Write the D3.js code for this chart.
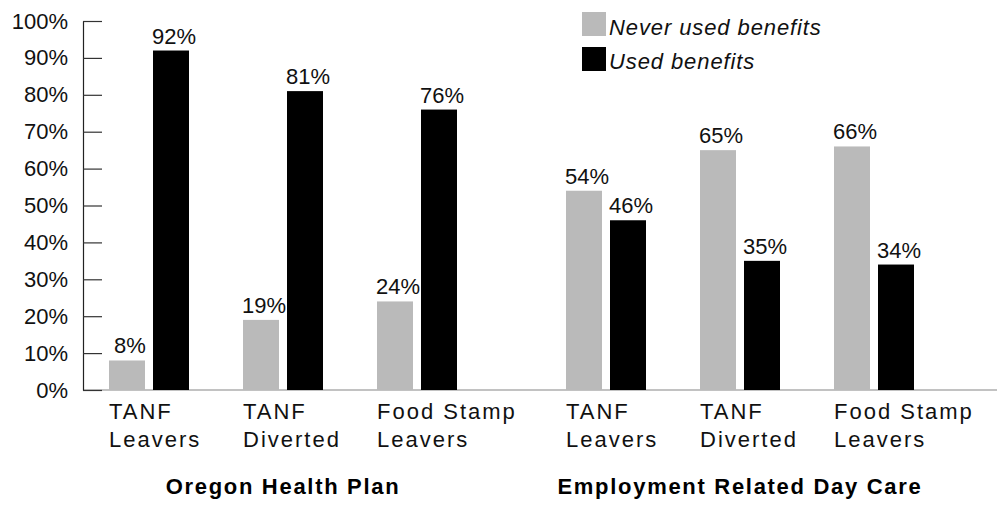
<!DOCTYPE html>
<html>
<head>
<meta charset="utf-8">
<script src="https://cdn.jsdelivr.net/npm/d3@7"></script>
<style>
  html, body { margin: 0; padding: 0; background: #fff; }
  svg { display: block; font-family: "Liberation Sans", Arial, Helvetica, sans-serif; }
</style>
</head>
<body>
<svg id="chart" width="997" height="506"></svg>
<script>
// ---- data ----
const panels = ["Oregon Health Plan", "Employment Related Day Care"];
const categories = [["TANF", "Leavers"], ["TANF", "Diverted"], ["Food Stamp", "Leavers"]];
const seriesNames = ["Never used benefits", "Used benefits"];
const neverUsed = [[8, 19, 24], [54, 65, 66]];
const used = [[92, 81, 76], [46, 35, 34]];
const yTicks = [0, 10, 20, 30, 40, 50, 60, 70, 80, 90, 100];

// ---- styles ----
const colors = ["#bababa", "#000000"];

const svg = d3.select("#chart");

const y = d3.scaleLinear().domain([0, 100]).range([390, 21]);
const xPanel = d3.scaleBand().domain(panels).range([109, 109 + 2 * 457]);
const catKeys = categories.map(c => c.join(" "));
const xCat = d3.scaleBand().domain(catKeys).range([0, 3 * 134]);
const xSeries = d3.scaleBand().domain(seriesNames).range([0, 80]).paddingInner(8 / 44);

// baseline
svg.append("line")
  .attr("x1", 83).attr("x2", 997)
  .attr("y1", y(0)).attr("y2", y(0))
  .attr("stroke", "#858585").attr("stroke-width", 1.2);

// y axis
const yAxis = d3.axisLeft(y)
  .tickValues(yTicks)
  .tickFormat(d => d + "%")
  .tickSizeInner(-19)
  .tickSizeOuter(0)
  .tickPadding(15);

const gy = svg.append("g").attr("transform", "translate(83,0)").call(yAxis);
gy.select(".domain").attr("stroke", "#222").attr("stroke-width", 1.2);
gy.selectAll(".tick line").attr("stroke", "#333").attr("stroke-width", 1.2);
gy.selectAll(".tick text")
  .attr("font-size", 22)
  .attr("fill", "#111")
  .attr("font-family", "Liberation Sans, Arial, sans-serif")
  .attr("dy", null)
  .attr("y", 7);

// bars
const rows = [];
panels.forEach((p, pi) => {
  catKeys.forEach((c, ci) => {
    rows.push({ panel: p, cat: c, catIdx: ci, series: seriesNames[0], value: neverUsed[pi][ci], si: 0 });
    rows.push({ panel: p, cat: c, catIdx: ci, series: seriesNames[1], value: used[pi][ci], si: 1 });
  });
});

const barX = d => xPanel(d.panel) + xCat(d.cat) + xSeries(d.series);

svg.append("g").selectAll("rect")
  .data(rows).join("rect")
  .attr("x", barX)
  .attr("y", d => y(d.value))
  .attr("width", xSeries.bandwidth())
  .attr("height", d => y(0) - y(d.value))
  .attr("fill", d => colors[d.si]);

// value labels
svg.append("g").selectAll("text")
  .data(rows).join("text")
  .attr("x", d => barX(d) + xSeries.bandwidth() / 2 + 3)
  .attr("y", d => y(d.value) - 7)
  .attr("text-anchor", "middle")
  .attr("font-size", 22)
  .attr("fill", "#111")
  .text(d => d.value + "%");

// category labels
panels.forEach(p => {
  categories.forEach((c, ci) => {
    const x0 = xPanel(p) + xCat(catKeys[ci]) + xSeries(seriesNames[0]);
    const t = svg.append("text")
      .attr("x", x0)
      .attr("y", 419)
      .attr("font-size", 22)
      .attr("letter-spacing", "2px")
      .attr("fill", "#111");
    t.append("tspan").attr("x", x0).attr("y", 419).text(c[0]);
    t.append("tspan").attr("x", x0).attr("y", 447).text(c[1]);
  });
});

// panel titles
svg.append("g").selectAll("text")
  .data(panels).join("text")
  .attr("x", d => xPanel(d) + (2 * xCat.step() + xSeries.range()[1]) / 2)
  .attr("y", 494)
  .attr("text-anchor", "middle")
  .attr("font-size", 22)
  .attr("font-weight", "bold")
  .attr("letter-spacing", "1.7px")
  .attr("fill", "#000")
  .text(d => d);

// legend
const legend = svg.append("g").attr("transform", "translate(582,12)");
seriesNames.forEach((s, i) => {
  legend.append("rect")
    .attr("x", 0).attr("y", i * 35)
    .attr("width", 24).attr("height", 24)
    .attr("fill", colors[i]);
  legend.append("text")
    .attr("x", 27).attr("y", i * 34 + 22.5)
    .attr("font-size", 22)
    .attr("font-style", "italic")
    .attr("letter-spacing", "0.9px")
    .attr("fill", "#111")
    .text(s);
});
</script>
</body>
</html>
